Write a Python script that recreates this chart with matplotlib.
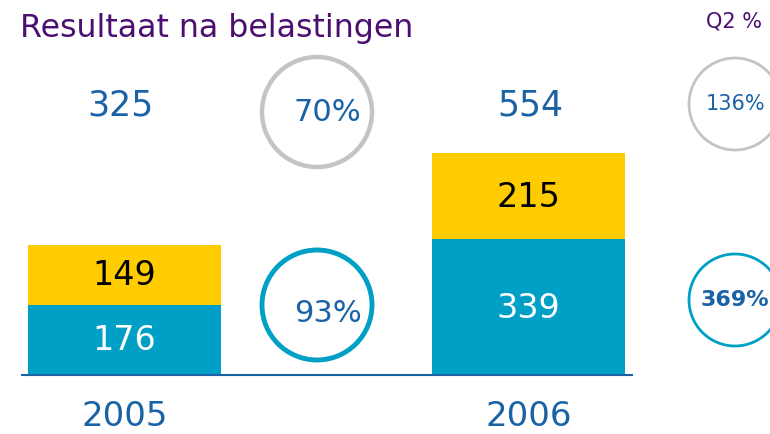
# stacked bars: resultaat na belastingen 2005 vs 2006

import numpy as np
import matplotlib
matplotlib.use('Agg')
from matplotlib import pyplot as plt
from matplotlib.patches import Circle

years = ['2005', '2006']
base_part = [176, 339]      # blue segment
top_part = [149, 215]       # yellow segment
totals = [325, 554]
growth_h1 = ['70%', '93%']  # grey circle, blue circle (middle column)
growth_q2 = ['136%', '369%']

BLUE = '#00a0c6'
YELLOW = '#ffcc00'
PURPLE = '#4b0f72'
TEXT_BLUE = '#1a62a6'
GREY = '#c4c4c4'

W, H = 770, 435


def fx(px):
    return px / float(W)


def fy(py):
    # pixel from top -> figure fraction
    return 1.0 - py / float(H)


fig = plt.figure(figsize=(7.7, 4.35), dpi=100)
fig.patch.set_facecolor('white')

# bar axes, placed so the baseline sits where the reference has it
ax = fig.add_axes([fx(22), fy(376), fx(632) - fx(22), fy(0) - fy(376)])
x = np.arange(len(years))
width = 193.0 / 404.0
ax.bar(x, base_part, width=width, color=BLUE, linewidth=0)
ax.bar(x, top_part, width=width, bottom=base_part, color=YELLOW, linewidth=0)
ax.set_xlim(-0.2537, 1.256)
ax.set_ylim(0, 940)

for i in range(len(years)):
    ax.text(x[i], base_part[i] / 2.0, str(base_part[i]), ha='center', va='center',
            color='white', fontsize=24)
    ax.text(x[i], base_part[i] + top_part[i] / 2.0, str(top_part[i]), ha='center',
            va='center', color='black', fontsize=24)

for s in ['top', 'right', 'left']:
    ax.spines[s].set_visible(False)
ax.spines['bottom'].set_color('#1a62a6')
ax.spines['bottom'].set_linewidth(1.5)
ax.set_yticks([])
ax.set_xticks(x)
ax.set_xticklabels(years, fontsize=24.5, color=TEXT_BLUE)
ax.tick_params(axis='x', length=0, pad=17)
ax.patch.set_alpha(0)

# overlay in pixel coordinates for the circles and headline numbers
ov = fig.add_axes([0, 0, 1, 1])
ov.set_xlim(0, W)
ov.set_ylim(H, 0)
ov.axis('off')
ov.patch.set_alpha(0)
ov.set_zorder(-1)

ov.add_patch(Circle((317, 113), 55, fill=False, edgecolor=GREY, linewidth=3.2))
ov.add_patch(Circle((317, 306), 55, fill=False, edgecolor=BLUE, linewidth=3.5))
ov.add_patch(Circle((735, 105), 46, fill=False, edgecolor=GREY, linewidth=2))
ov.add_patch(Circle((735, 301), 46, fill=False, edgecolor=BLUE, linewidth=2))

fig.text(fx(20), fy(29), 'Resultaat na belastingen', color=PURPLE, fontsize=22.8,
         ha='left', va='center')
fig.text(fx(734), fy(21), 'Q2 %', color=PURPLE, fontsize=15, ha='center', va='center')

fig.text(fx(120), fy(106), str(totals[0]), color=TEXT_BLUE, fontsize=25,
         ha='center', va='center')
fig.text(fx(530), fy(106), str(totals[1]), color=TEXT_BLUE, fontsize=25,
         ha='center', va='center')

fig.text(fx(327), fy(113), growth_h1[0], color=TEXT_BLUE, fontsize=22,
         ha='center', va='center')
fig.text(fx(328), fy(313), growth_h1[1], color=TEXT_BLUE, fontsize=22,
         ha='center', va='center')
fig.text(fx(735), fy(104), growth_q2[0], color=TEXT_BLUE, fontsize=15,
         ha='center', va='center')
fig.text(fx(735), fy(300), growth_q2[1], color=TEXT_BLUE, fontsize=16,
         fontweight='bold', ha='center', va='center')

plt.savefig('out.png', dpi=100)
